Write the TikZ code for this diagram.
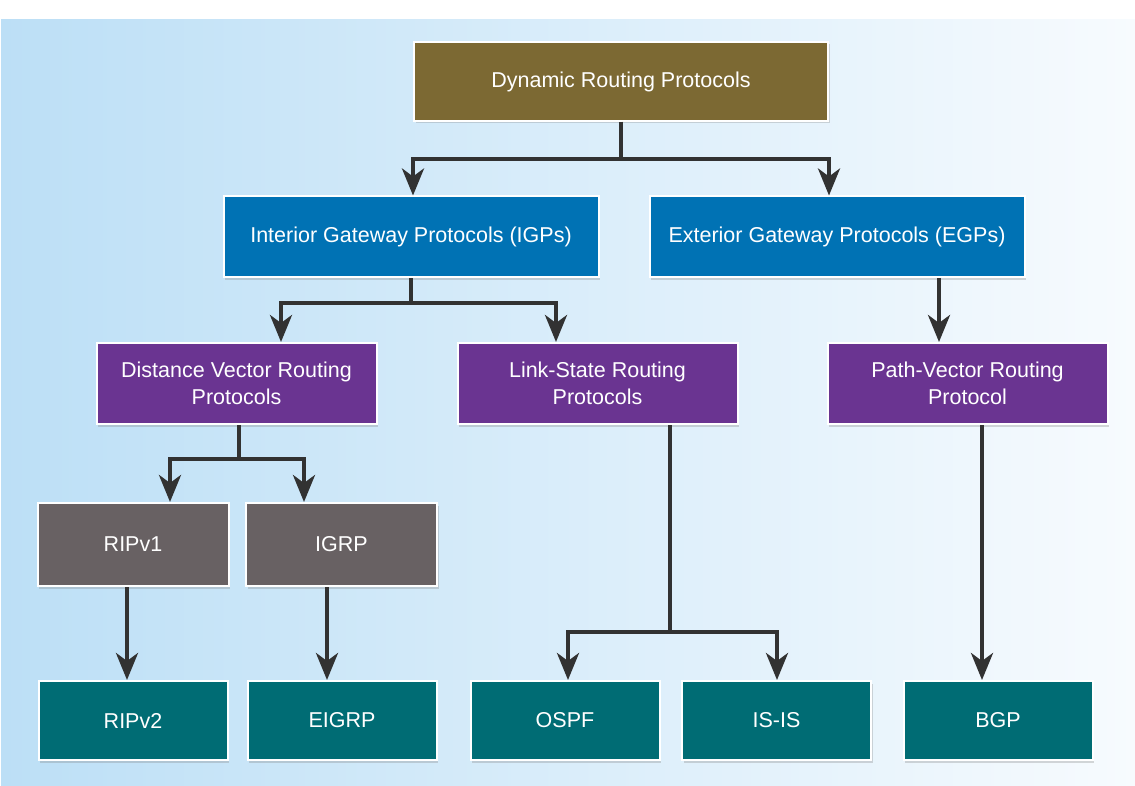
\documentclass[tikz,border=0pt]{standalone}
\usepackage{fontspec}
\setmainfont{Liberation Sans}
\usetikzlibrary{positioning,arrows.meta,shadows}
\definecolor{bgleft}{RGB}{188,223,246}
\definecolor{bgright}{RGB}{247,251,254}
\definecolor{drpbrown}{RGB}{124,105,51}
\definecolor{gwblue}{RGB}{0,114,180}
\definecolor{algpurple}{RGB}{106,52,145}
\definecolor{oldgrey}{RGB}{104,97,99}
\definecolor{newteal}{RGB}{0,108,116}
\definecolor{flowgrey}{RGB}{50,50,50}
\tikzset{
  rbox/.style={draw=white,line width=2pt,text=white,align=center,
    font=\fontsize{21.5}{26.5}\selectfont,inner sep=2pt,
    drop shadow={shadow xshift=1.5pt,shadow yshift=-2.5pt,opacity=0.3}},
  topbox/.style={rbox,fill=drpbrown,minimum width=414pt,minimum height=79pt},
  gwbox/.style={rbox,fill=gwblue,minimum width=375pt,minimum height=81pt},
  algbox/.style={rbox,fill=algpurple,minimum width=280pt,minimum height=81pt},
  oldbox/.style={rbox,fill=oldgrey,minimum width=191pt,minimum height=83pt},
  newbox/.style={rbox,fill=newteal,minimum width=189pt,minimum height=79pt},
  flow/.style={-{Stealth[length=27pt 0,width=22pt 0,inset=8pt]},line width=4pt,
    draw=flowgrey},
}

\begin{document}
\begin{tikzpicture}[x=1pt,y=-1pt]
  \fill[white] (0,0) rectangle (1135,786);
  \shade[left color=bgleft,right color=bgright] (1,20) rectangle (1135,786);

  \node[topbox] (drp) at (621,81.5) {Dynamic Routing Protocols};
  \node[gwbox] (igp) at (411,237) {Interior Gateway Protocols (IGPs)};
  \node[gwbox] (egp) at (837,237) {Exterior Gateway Protocols (EGPs)};
  \node[algbox] (dv) at (236.5,383.5) {Distance Vector Routing\\Protocols};
  \node[algbox] (ls) at (597.5,383.5) {Link-State Routing\\Protocols};
  \node[algbox] (pv) at (967.5,383.5) {Path-Vector Routing\\Protocol};
  \node[oldbox] (ripa) at (133,544.5) {RIPv1};
  \node[oldbox] (igrp) at (341.5,544.5) {IGRP};
  \node[newbox] (ripb) at (133,720.5) {RIPv2};
  \node[newbox] (eigrp) at (342,720.5) {EIGRP};
  \node[newbox] (ospf) at (565,720.5) {OSPF};
  \node[newbox] (isis) at (776.5,720.5) {IS-IS};
  \node[newbox] (bgp) at (998,720.5) {BGP};

  \draw[flow] (drp.south) -- ++(0,37) -| ([xshift=2pt]igp.north);
  \draw[flow] (drp.south) -- ++(0,37) -| ([xshift=-8pt]egp.north);
  \draw[flow] (igp.south) -- ++(0,25) -| ([xshift=44.5pt]dv.north);
  \draw[flow] (igp.south) -- ++(0,25) -| ([xshift=-41.5pt]ls.north);
  \draw[flow] ([xshift=102pt]egp.south) -- ([xshift=-28.5pt]pv.north);
  \draw[flow] ([xshift=2.5pt]dv.south) -- ++(0,34) -| ([xshift=37pt]ripa.north);
  \draw[flow] ([xshift=2.5pt]dv.south) -- ++(0,34) -| ([xshift=-37.5pt]igrp.north);
  \draw[flow] ([xshift=-6pt]ripa.south) -- ([xshift=-6pt]ripb.north);
  \draw[flow] ([xshift=-14.5pt]igrp.south) -- ([xshift=-15pt]eigrp.north);
  \draw[flow] ([xshift=72.5pt]ls.south) -- ++(0,207) -| ([xshift=3pt]ospf.north);
  \draw[flow] ([xshift=72.5pt]ls.south) -- ++(0,207) -| ([xshift=0.5pt]isis.north);
  \draw[flow] ([xshift=14.5pt]pv.south) -- ([xshift=-16pt]bgp.north);
\end{tikzpicture}
\end{document}
